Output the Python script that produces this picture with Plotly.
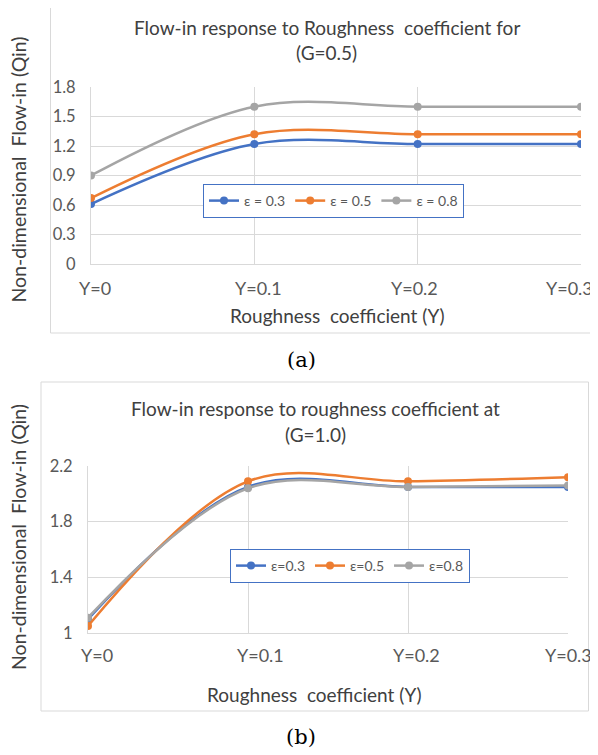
import plotly.graph_objects as go

# ---------------- data ----------------
categories = ["Y=0", "Y=0.1", "Y=0.2", "Y=0.3"]

# chart (a): G = 0.5
a_eps03 = [0.61, 1.22, 1.22, 1.22]
a_eps05 = [0.67, 1.32, 1.32, 1.32]
a_eps08 = [0.90, 1.60, 1.60, 1.60]
a_names = ["ε = 0.3", "ε = 0.5", "ε = 0.8"]

# chart (b): G = 1.0
b_eps03 = [1.10, 2.05, 2.05, 2.05]
b_eps05 = [1.05, 2.09, 2.09, 2.12]
b_eps08 = [1.11, 2.04, 2.05, 2.06]
b_names = ["ε=0.3", "ε=0.5", "ε=0.8"]

a_yticks = [0, 0.3, 0.6, 0.9, 1.2, 1.5, 1.8]
b_yticks = [1, 1.4, 1.8, 2.2]

# ---------------- style ----------------
# the page body has an 8px margin, so the figure is sized to fit the window
OFF = 8
W, H = 598 - OFF, 755 - OFF
COLORS = ["#4472C4", "#ED7D31", "#A5A5A5"]
FONT = "Lato"
GRID = "#d9d9d9"
TXT = "#595959"
# per-label horizontal nudges (px), mimicking the original label placement
A_LABEL_NUDGE = [4, 4, -3, -12]
B_LABEL_NUDGE = [9, 12, 8, 0]


def px_x(v):
    return (v - OFF) / W


def px_y(v):
    return 1 - (v - OFF) / H


xpos = list(range(len(categories)))

fig = go.Figure()

for vals, name, col in zip([a_eps03, a_eps05, a_eps08], a_names, COLORS):
    fig.add_trace(go.Scatter(
        x=xpos, y=vals, name=name, mode="lines+markers",
        line=dict(color=col, width=2.5, shape="spline", smoothing=1.0),
        marker=dict(color=col, size=8),
        xaxis="x", yaxis="y", legend="legend"))

for vals, name, col in zip([b_eps03, b_eps05, b_eps08], b_names, COLORS):
    fig.add_trace(go.Scatter(
        x=xpos, y=vals, name=name, mode="lines+markers",
        line=dict(color=col, width=2.5, shape="spline", smoothing=1.0),
        marker=dict(color=col, size=8),
        xaxis="x2", yaxis="y2", legend="legend2"))

xcommon = dict(
    tickmode="array", tickvals=xpos, showticklabels=False,
    range=[0, len(categories) - 1], automargin=False,
    showgrid=True, gridcolor=GRID, gridwidth=1,
    showline=True, linecolor=GRID, linewidth=1, mirror=False,
    zeroline=False, ticks="",
)
ycommon = dict(
    showgrid=True, gridcolor=GRID, gridwidth=1, automargin=False,
    showline=True, linecolor=GRID, linewidth=1,
    zeroline=False, ticks="", ticklabelstandoff=11,
    tickfont=dict(family=FONT, size=16.5, color=TXT),
)

legend_common = dict(
    orientation="h", bgcolor="white", bordercolor="#4472C4", borderwidth=1,
    font=dict(family=FONT, size=14, color=TXT), xanchor="left", yanchor="top",
    itemwidth=30, tracegroupgap=0,
)

fig.update_layout(
    width=W, height=H, margin=dict(l=0, r=0, t=0, b=0, pad=0, autoexpand=False),
    paper_bgcolor="white", plot_bgcolor="white",
    showlegend=True,
    xaxis=dict(domain=[px_x(91), px_x(581)], anchor="y", **xcommon),
    yaxis=dict(domain=[px_y(264), px_y(87)], anchor="x", range=[0, 1.8],
               tickvals=a_yticks, **ycommon),
    xaxis2=dict(domain=[px_x(88), px_x(568)], anchor="y2", **xcommon),
    yaxis2=dict(domain=[px_y(633), px_y(466)], anchor="x2", range=[1, 2.2],
                tickvals=b_yticks, **ycommon),
    legend=dict(x=px_x(203), y=px_y(184), **legend_common),
    legend2=dict(x=px_x(230), y=px_y(549), **legend_common),
)

# chart borders
fig.add_shape(type="rect", xref="paper", yref="paper",
              x0=px_x(50.5), x1=px_x(620), y0=px_y(333), y1=px_y(2.5),
              line=dict(color=GRID, width=1), layer="below")
fig.add_shape(type="rect", xref="paper", yref="paper",
              x0=px_x(41), x1=px_x(588.5), y0=px_y(711), y1=px_y(382),
              line=dict(color=GRID, width=1), layer="below")

# category labels, placed on the x axes' own scale
for xref, ylab, nudges in (("x", 288, A_LABEL_NUDGE), ("x2", 655, B_LABEL_NUDGE)):
    for xv, lab, dx in zip(xpos, categories, nudges):
        fig.add_annotation(text=lab, x=xv, xref=xref, y=px_y(ylab), yref="paper",
                           xanchor="center", yanchor="middle", xshift=dx,
                           showarrow=False, font=dict(family=FONT, size=18, color=TXT))


def ann(text, x, y, size, angle=0, family=FONT, color="#404040"):
    fig.add_annotation(text=text, x=px_x(x), y=px_y(y), xref="paper", yref="paper",
                       xanchor="center", yanchor="middle", showarrow=False,
                       textangle=angle, font=dict(family=family, size=size, color=color))


# titles
ann("Flow-in response to Roughness  coefficient for", 326.5, 27.5, 19)
ann("(G=0.5)", 326.5, 53, 19)
ann("Flow-in response to roughness coefficient at", 315, 408, 19)
ann("(G=1.0)", 315, 434, 19)
# axis titles
ann("Roughness  coefficient (Y)", 337, 315, 19)
ann("Roughness  coefficient (Y)", 313.5, 694, 19)
ann("Non-dimensional  Flow-in (Qin)", 18, 169.5, 19.5, angle=-90)
ann("Non-dimensional  Flow-in (Qin)", 18, 537, 19.5, angle=-90)
# captions
ann("(a)", 301, 360, 21, family="DejaVu Serif", color="#000000")
ann("(b)", 301, 737, 21, family="DejaVu Serif", color="#000000")

fig.write_html("out.html")
